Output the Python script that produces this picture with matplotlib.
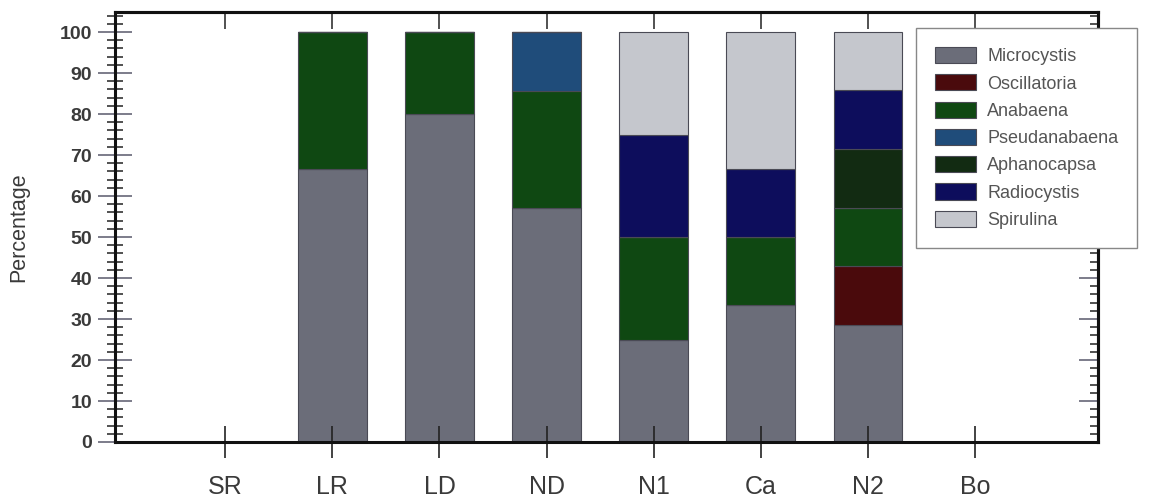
import numpy as np
import matplotlib.pyplot as plt
from matplotlib.ticker import MultipleLocator

# Sampling sites and the cyanobacteria genera found at each
sites = ["SR", "LR", "LD", "ND", "N1", "Ca", "N2", "Bo"]
genera = ["Microcystis", "Oscillatoria", "Anabaena", "Pseudanabaena",
          "Aphanocapsa", "Radiocystis", "Spirulina"]

# Percentage of each genus per site (SR and Bo had none)
microcystis   = [0, 66.7, 80.0, 57.1, 25.0, 33.3, 28.6, 0]
oscillatoria  = [0, 0, 0, 0, 0, 0, 14.3, 0]
anabaena      = [0, 33.3, 20.0, 28.6, 25.0, 16.7, 14.3, 0]
pseudanabaena = [0, 0, 0, 14.3, 0, 0, 0, 0]
aphanocapsa   = [0, 0, 0, 0, 0, 0, 14.3, 0]
radiocystis   = [0, 0, 0, 0, 25.0, 16.7, 14.3, 0]
spirulina     = [0, 0, 0, 0, 25.0, 33.3, 14.2, 0]

colors = ["#6b6d79", "#4a0a0c", "#0f4812", "#1f4c7a",
          "#122b12", "#0d0d5c", "#c5c7cd"]

series = [microcystis, oscillatoria, anabaena, pseudanabaena,
          aphanocapsa, radiocystis, spirulina]

text_col = "#3a3a3a"
plt.rcParams["font.family"] = ["Liberation Sans", "DejaVu Sans"]

fig = plt.figure(figsize=(11.5, 5), dpi=100)
ax = fig.add_axes([115 / 1150, 58 / 500, 983 / 1150, 430 / 500])

x = np.arange(len(sites))
bottom = np.zeros(len(sites))
handles = []
for name, vals, col in zip(genera, series, colors):
    vals = np.array(vals, dtype=float)
    b = ax.bar(x, vals, width=0.64, bottom=bottom, color=col, label=name,
               edgecolor="#4a4a55", linewidth=0.8)
    handles.append(b)
    bottom += vals

ax.set_xlim(-1.03, 8.15)
ax.set_ylim(0, 104.9)

ax.set_xticks(x)
ax.set_xticklabels(sites, fontsize=18, color=text_col)
ax.yaxis.set_major_locator(MultipleLocator(10))
ax.yaxis.set_minor_locator(MultipleLocator(2))
ax.tick_params(axis="y", which="major", direction="inout", length=25,
               width=1.2, labelsize=14, labelcolor=text_col, color="#667",
               right=False, pad=4)
ax.tick_params(axis="y", which="minor", direction="inout", length=12,
               width=1.2, color="#333", right=False)
ax.tick_params(axis="x", direction="inout", length=23, width=1.2,
               top=False, pad=12, color="#222")
for lab in ax.get_yticklabels():
    lab.set_fontweight("bold")

# inward ticks on the right and top edges
right = ax.secondary_yaxis("right")
right.yaxis.set_major_locator(MultipleLocator(10))
right.yaxis.set_minor_locator(MultipleLocator(2))
right.tick_params(which="major", direction="in", length=14, width=1.2,
                  labelright=False, color="#667")
right.tick_params(which="minor", direction="in", length=6, width=1.2,
                  color="#333")
top = ax.secondary_xaxis("top")
top.set_xticks(x)
top.tick_params(direction="in", length=12, width=1.2, labeltop=False,
                color="#333")
for sec in (right, top):
    for sp in sec.spines.values():
        sp.set_linewidth(2.2)
        sp.set_color("#111")

for sp in ax.spines.values():
    sp.set_linewidth(2.2)
    sp.set_color("#111")

ax.set_ylabel("Percentage", fontsize=15.5, color=text_col, labelpad=22)

leg = fig.legend(handles=handles, labels=genera, loc="upper left",
                 bbox_to_anchor=(916 / 1150, 1 - 28 / 500), fontsize=13,
                 frameon=True, fancybox=False, handlelength=2.3,
                 handleheight=1.0, handletextpad=0.6, labelspacing=0.5,
                 borderpad=1.05, borderaxespad=0, labelcolor="#555",
                 framealpha=1)
leg.get_frame().set_edgecolor("#888")
leg.get_frame().set_linewidth(1.0)

fig.savefig("out.png", dpi=100)
